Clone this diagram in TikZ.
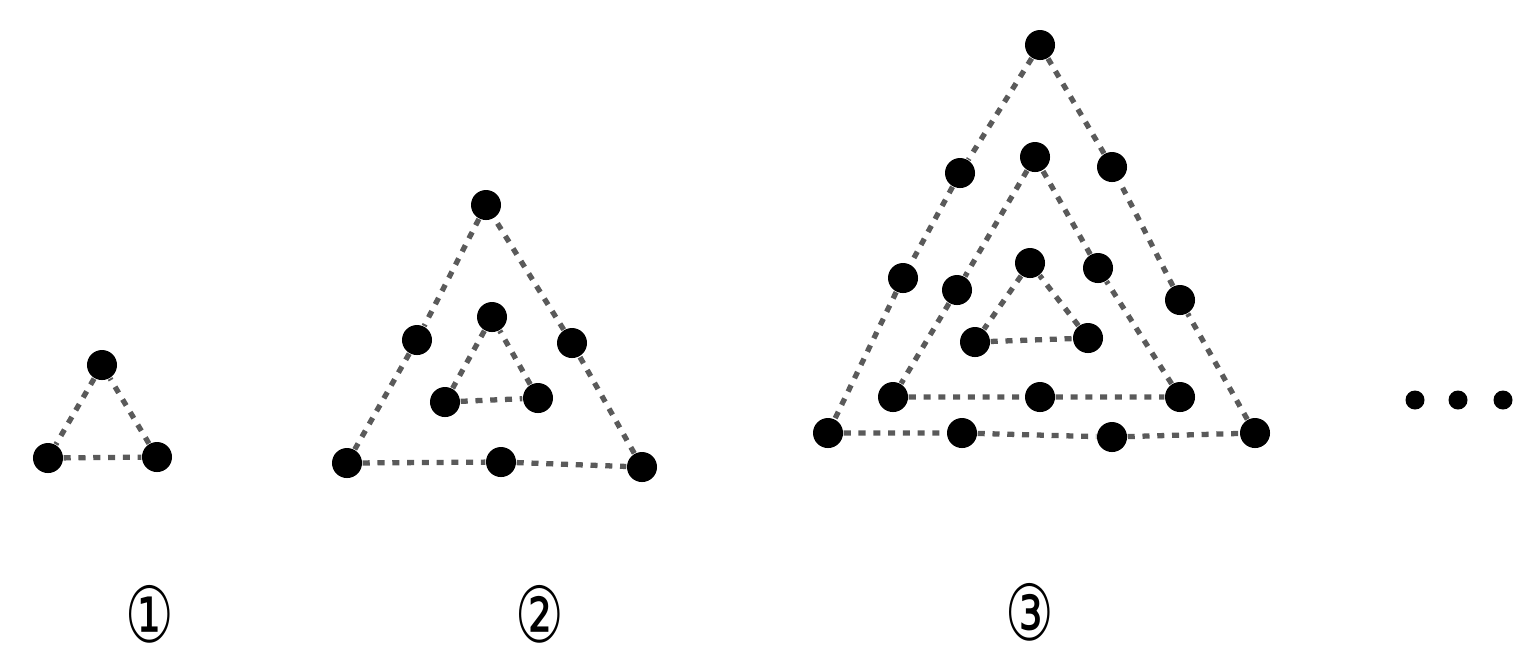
\documentclass[tikz,border=0pt]{standalone}
\usepackage{fontspec}
\usepackage{tikz}
\newfontfamily\circfont[FakeStretch=0.7]{DejaVu Sans}
\definecolor{Link}{HTML}{5A5A5A}

\begin{document}
\begin{tikzpicture}[x=0.01cm,y=-0.01cm,
        dot/.style={circle,fill=black,inner sep=0pt,minimum size=0.3cm},
        sdot/.style={circle,fill=black,inner sep=0pt,minimum size=0.19cm},
        link/.style={draw=Link,line width=1.5pt,dash pattern=on 2pt off 2.2pt},
        num/.style={font=\circfont\fontsize{22}{22}\selectfont,inner sep=0pt}]
        \useasboundingbox (0,0) rectangle (1522,656);
        % first figure
        \node[dot] (a1) at (102,365) {};
        \node[dot] (a2) at (48,458) {};
        \node[dot] (a3) at (157,457) {};
        \draw[link] (a1) -- (a2) -- (a3) -- (a1);
        % second figure
        \node[dot] (b1) at (486,205) {};
        \node[dot] (b2) at (417,340) {};
        \node[dot] (b3) at (347,463) {};
        \node[dot] (b4) at (501,462) {};
        \node[dot] (b5) at (642,467) {};
        \node[dot] (b6) at (572,343) {};
        \node[dot] (b7) at (492,317) {};
        \node[dot] (b8) at (445,402) {};
        \node[dot] (b9) at (538,398) {};
        \draw[link] (b1) -- (b2) -- (b3) -- (b4) -- (b5) -- (b6) -- (b1);
        \draw[link] (b7) -- (b8) -- (b9) -- (b7);
        % third figure
        \node[dot] (c1) at (1040,45) {};
        \node[dot] (c2) at (960,173) {};
        \node[dot] (c3) at (903,278) {};
        \node[dot] (c4) at (828,433) {};
        \node[dot] (c5) at (962,433) {};
        \node[dot] (c6) at (1112,437) {};
        \node[dot] (c7) at (1255,433) {};
        \node[dot] (c8) at (1180,300) {};
        \node[dot] (c9) at (1112,167) {};
        \draw[link] (c1) -- (c2) -- (c3) -- (c4) -- (c5) -- (c6) -- (c7) -- (c8) -- (c9) -- (c1);
        \node[dot] (d1) at (1035,157) {};
        \node[dot] (d2) at (957,290) {};
        \node[dot] (d3) at (893,397) {};
        \node[dot] (d4) at (1040,397) {};
        \node[dot] (d5) at (1180,397) {};
        \node[dot] (d6) at (1098,268) {};
        \draw[link] (d1) -- (d2) -- (d3) -- (d4) -- (d5) -- (d6) -- (d1);
        \node[dot] (e1) at (1030,263) {};
        \node[dot] (e2) at (975,342) {};
        \node[dot] (e3) at (1088,338) {};
        \draw[link] (e1) -- (e2) -- (e3) -- (e1);
        % ellipsis
        \node[sdot] (f1) at (1415,400) {};
        \node[sdot] (f2) at (1458,400) {};
        \node[sdot] (f3) at (1503,400) {};
        % labels
        \node[num] (n1) at (150,614) {①};
        \node[num] (n2) at (540,614) {②};
        \node[num] (n3) at (1030,612) {③};
      \end{tikzpicture}
\end{document}
